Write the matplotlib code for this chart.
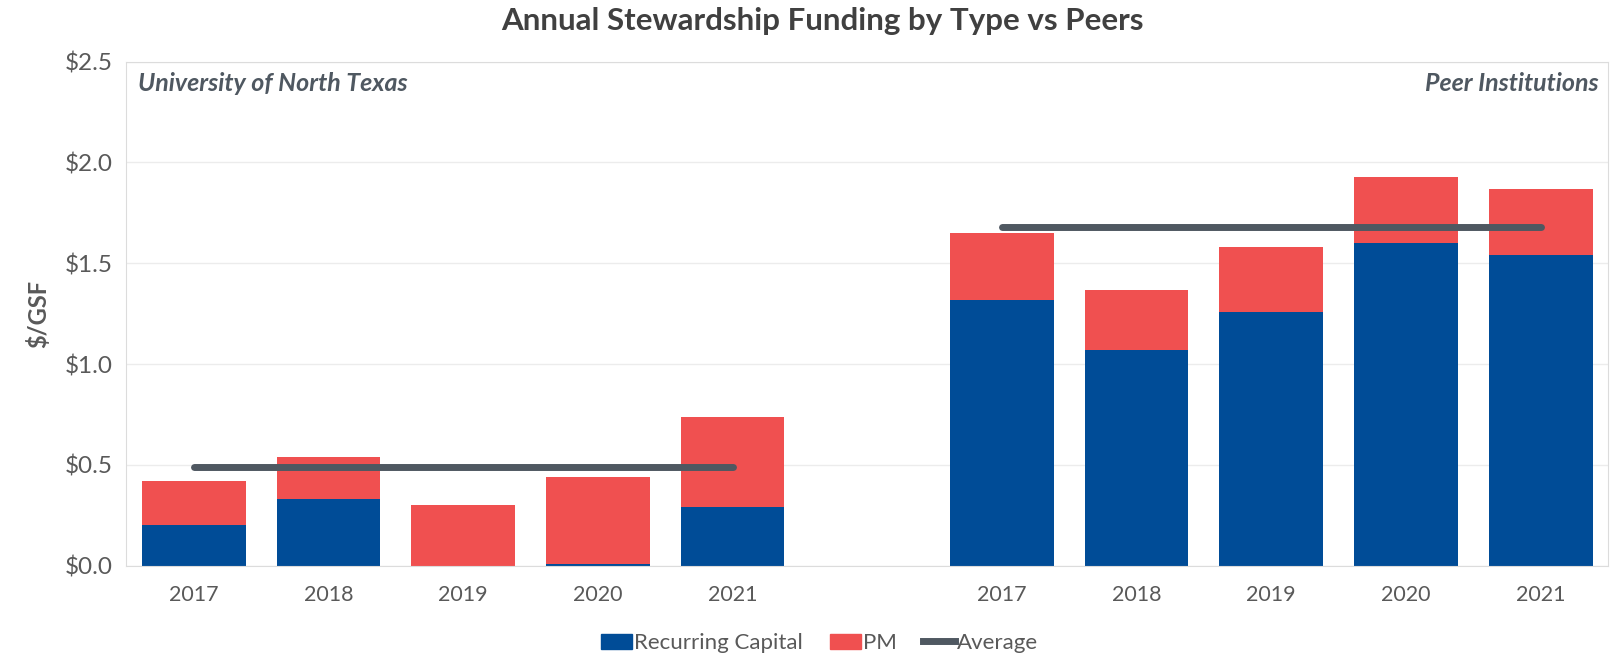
import matplotlib.pyplot as plt
from matplotlib.lines import Line2D
from matplotlib.patches import Patch

plt.rcParams['font.family'] = ['Lato', 'DejaVu Sans']

years = ["2017", "2018", "2019", "2020", "2021"]

# University of North Texas, $/GSF
unt_recurring = [0.20, 0.33, 0.00, 0.01, 0.29]
unt_pm = [0.22, 0.21, 0.30, 0.43, 0.45]

# Peer institutions, $/GSF
peer_recurring = [1.32, 1.07, 1.26, 1.60, 1.54]
peer_pm = [0.33, 0.30, 0.32, 0.33, 0.33]

blue = '#004c97'
red = '#f05050'
grey = '#4f5861'
txt = '#595959'

fig = plt.figure(figsize=(16.13, 6.63), dpi=100)
ax = fig.add_axes([0.0784, 0.1466, 0.9185, 0.7604])

# slots 0-4 for UNT, 6-10 for peers (slot 5 left blank)
x_unt = list(range(5))
x_peer = [i + 6 for i in range(5)]
w = 0.77

ax.bar(x_unt, unt_recurring, w, color=blue, zorder=2)
ax.bar(x_unt, unt_pm, w, bottom=unt_recurring, color=red, zorder=2)
ax.bar(x_peer, peer_recurring, w, color=blue, zorder=2)
ax.bar(x_peer, peer_pm, w, bottom=peer_recurring, color=red, zorder=2)

unt_tot = [a + b for a, b in zip(unt_recurring, unt_pm)]
peer_tot = [a + b for a, b in zip(peer_recurring, peer_pm)]
unt_avg = sum(unt_tot) / len(unt_tot)
peer_avg = sum(peer_tot) / len(peer_tot)

ax.plot([x_unt[0], x_unt[-1]], [unt_avg, unt_avg], color=grey, lw=5,
        solid_capstyle='round', zorder=3)
ax.plot([x_peer[0], x_peer[-1]], [peer_avg, peer_avg], color=grey, lw=5,
        solid_capstyle='round', zorder=3)

ax.set_xlim(-0.5, 10.5)
ax.set_ylim(0, 2.5)
ax.set_xticks(x_unt + x_peer)
ax.set_xticklabels(years + years, fontsize=15.5)
ax.set_yticks([0, 0.5, 1.0, 1.5, 2.0, 2.5])
ax.set_yticklabels(["$0.0", "$0.5", "$1.0", "$1.5", "$2.0", "$2.5"], fontsize=17.5)
ax.tick_params(length=0, labelcolor=txt, pad=10)
ax.tick_params(axis='x', pad=14)
ax.grid(axis='y', color='#ececec', lw=1, zorder=0)
for s in ax.spines.values():
    s.set_color('#dcdcdc')

ax.set_ylabel("$/GSF", fontsize=17, fontweight='bold', color=txt, labelpad=10)

ax.text(0.008, 0.98, "University of North Texas", transform=ax.transAxes,
        ha='left', va='top', fontsize=18, fontweight='bold', style='italic', color=grey)
ax.text(0.994, 0.98, "Peer Institutions", transform=ax.transAxes,
        ha='right', va='top', fontsize=18, fontweight='bold', style='italic', color=grey)

fig.suptitle("Annual Stewardship Funding by Type vs Peers", x=0.51, y=0.99,
             fontsize=22.5, fontweight='bold', color='#404040')

handles = [Patch(color=blue, label="Recurring Capital"),
           Patch(color=red, label="PM"),
           Line2D([0], [0], color=grey, lw=5, label="Average")]
leg = fig.legend(handles=handles, loc='center', bbox_to_anchor=(0.508, 0.03), ncol=3,
                 frameon=False, fontsize=16, handlelength=1.4, handletextpad=0.1,
                 columnspacing=1.2)
for t in leg.get_texts():
    t.set_color(txt)

fig.savefig("out.png", dpi=100)
